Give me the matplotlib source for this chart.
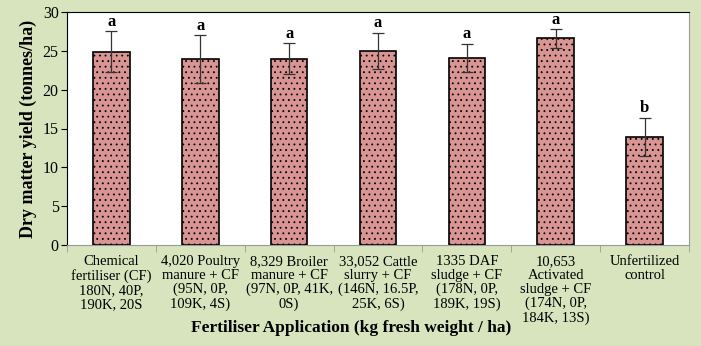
import matplotlib.pyplot as plt
import numpy as np

plt.rcParams["font.family"] = ["Liberation Serif", "DejaVu Serif"]
plt.rcParams["hatch.color"] = "#222222"
plt.rcParams["hatch.linewidth"] = 0.6

BG_COLOR = "#D8E4BD"
BAR_COLOR = "#D99594"

categories = [
    "Chemical\nfertiliser (CF)\n180N, 40P,\n190K, 20S",
    "4,020 Poultry\nmanure + CF\n(95N, 0P,\n109K, 4S)",
    "8,329 Broiler\nmanure + CF\n(97N, 0P, 41K,\n0S)",
    "33,052 Cattle\nslurry + CF\n(146N, 16.5P,\n25K, 6S)",
    "1335 DAF\nsludge + CF\n(178N, 0P,\n189K, 19S)",
    "10,653\nActivated\nsludge + CF\n(174N, 0P,\n184K, 13S)",
    "Unfertilized\ncontrol",
]
yield_mean = [24.9, 23.9, 24.0, 25.0, 24.1, 26.6, 13.9]
yield_err = [2.6, 3.1, 2.0, 2.3, 1.8, 1.2, 2.5]
groups = ["a", "a", "a", "a", "a", "a", "b"]

fig = plt.figure(figsize=(7.01, 3.46), dpi=100, facecolor=BG_COLOR)
ax = fig.add_axes([67 / 701, 101 / 346, 622 / 701, 233 / 346])
ax.set_facecolor("white")

x = np.arange(len(categories))
ax.bar(x, yield_mean, width=0.41, color=BAR_COLOR, edgecolor="black",
       linewidth=1.2, hatch="...", zorder=2)
ax.errorbar(x, yield_mean, yerr=yield_err, fmt="none", ecolor="#333333",
            elinewidth=0.9, capsize=4, capthick=0.9, zorder=3)

for xi, m, e, g in zip(x, yield_mean, yield_err, groups):
    ax.text(xi, m + e + 0.2, g, ha="center", va="bottom",
            fontsize=12, fontweight="bold")

ax.set_xlim(-0.5, len(categories) - 0.5)
ax.set_ylim(0, 30)
ax.set_yticks(range(0, 31, 5))
ax.tick_params(axis="y", labelsize=11.5, length=4, direction="out", pad=2)

ax.set_xticks(x)
ax.set_xticklabels(categories, fontsize=10.5, linespacing=1.1)
ax.tick_params(axis="x", which="major", length=0, pad=7)
ax.set_xticks(np.arange(-0.5, len(categories), 1), minor=True)
ax.tick_params(axis="x", which="minor", length=5, color="#999999")

ax.spines["top"].set_color("black")
ax.spines["left"].set_color("black")
ax.spines["right"].set_color("#999999")
ax.spines["bottom"].set_color("#999999")

ax.set_ylabel("Dry matter yield (tonnes/ha)", fontsize=13, fontweight="bold",
              labelpad=4)
fig.text(0.501, 0.03, "Fertiliser Application (kg fresh weight / ha)",
         ha="center", va="bottom", fontsize=12.5, fontweight="bold")

fig.savefig("out.png", dpi=100, facecolor=BG_COLOR)
